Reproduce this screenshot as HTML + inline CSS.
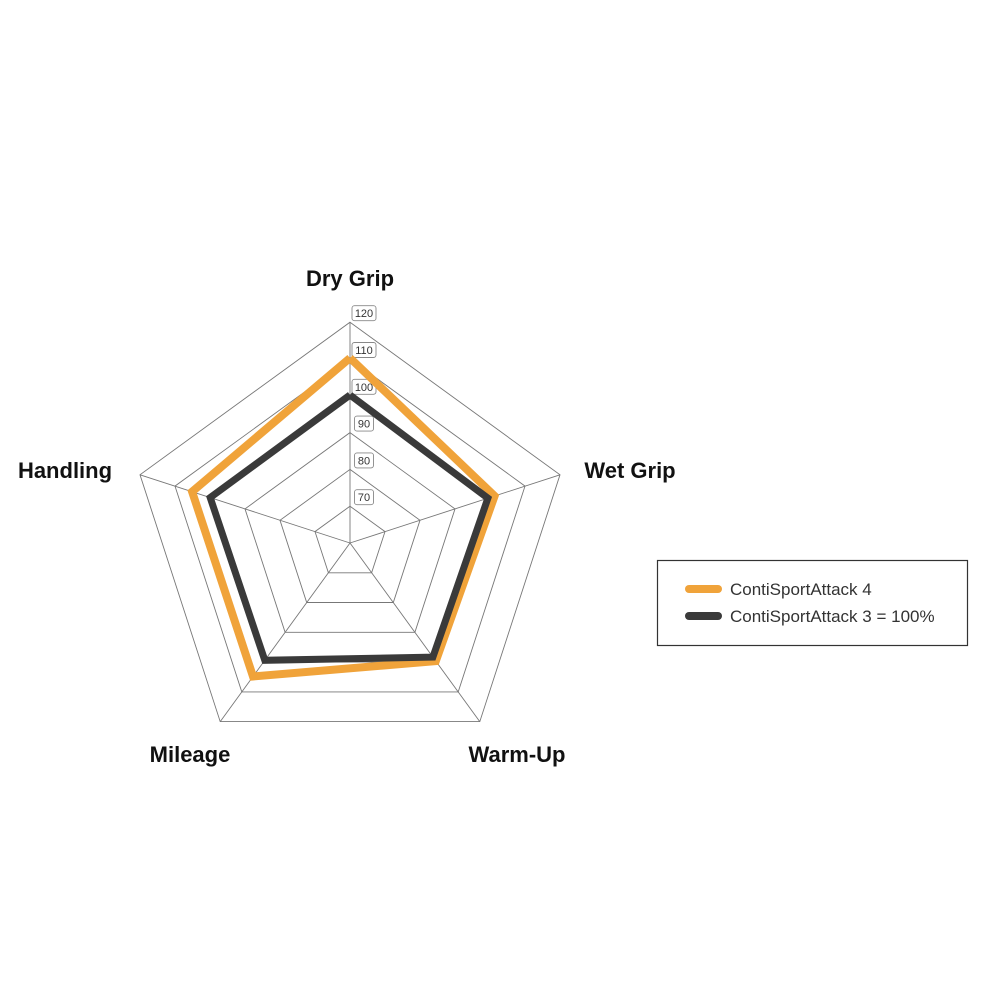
<!DOCTYPE html>
<html><head><meta charset="utf-8"><style>
html,body{margin:0;padding:0;background:#fff;}
svg{display:block;}
.lab{font-family:"Liberation Sans",sans-serif;font-weight:bold;font-size:22px;fill:#111;}
.tick{font-family:"Liberation Sans",sans-serif;font-size:11px;fill:#333;}
.leg{font-family:"Liberation Sans",sans-serif;font-size:17px;fill:#333;}
</style></head><body>
<svg id="s" width="1000" height="1000" viewBox="0 0 1000 1000" xmlns="http://www.w3.org/2000/svg">
<g id="grid" fill="none" stroke="#777" stroke-width="0.9"></g>
<g id="ticks"></g>
<polyline fill="none" stroke="#f0a33a" stroke-width="8" stroke-linejoin="miter" points="350,358 494.6,496 435.8,661.1 253,676.5 192.1,491.7 350,358"/>
<polyline fill="none" stroke="#3a3a3a" stroke-width="7" stroke-linejoin="miter" points="350,395 487.9,498.2 432.9,657.1 264.8,660.3 210.2,497.6 350,395"/>
<text class="lab" x="350" y="286" text-anchor="middle">Dry Grip</text>
<text class="lab" x="630" y="478" text-anchor="middle">Wet Grip</text>
<text class="lab" x="65" y="478" text-anchor="middle">Handling</text>
<text class="lab" x="190" y="762" text-anchor="middle">Mileage</text>
<text class="lab" x="517" y="762" text-anchor="middle">Warm-Up</text>
<rect x="657.5" y="560.5" width="310" height="85" fill="#fff" stroke="#333" stroke-width="1.2"/>
<line x1="689" y1="589" x2="718" y2="589" stroke="#f0a33a" stroke-width="8" stroke-linecap="round"/>
<line x1="689" y1="616" x2="718" y2="616" stroke="#3a3a3a" stroke-width="8" stroke-linecap="round"/>
<text class="leg" x="730" y="595">ContiSportAttack 4</text>
<text class="leg" x="730" y="622">ContiSportAttack 3 = 100%</text>
</svg>
<script>
var g=document.getElementById('grid'),t=document.getElementById('ticks'),cx=350,cy=543,st=36.8,ns="http://www.w3.org/2000/svg";
for(var k=1;k<=6;k++){var r=st*k,p=[];for(var i=0;i<5;i++){var a=i*72*Math.PI/180;p.push((cx+r*Math.sin(a)).toFixed(1)+","+(cy-r*Math.cos(a)).toFixed(1));}
var e=document.createElementNS(ns,"polygon");e.setAttribute("points",p.join(" "));g.appendChild(e);}
for(var i=0;i<5;i++){var a=i*72*Math.PI/180,l=document.createElementNS(ns,"line");l.setAttribute("x1",cx);l.setAttribute("y1",cy);l.setAttribute("x2",cx+st*6*Math.sin(a));l.setAttribute("y2",cy-st*6*Math.cos(a));g.appendChild(l);}
for(var k=1;k<=6;k++){var y=cy-st*k-9,v=String(60+10*k),w=v.length==3?24:19;
var rc=document.createElementNS(ns,"rect");rc.setAttribute("x",364-w/2);rc.setAttribute("y",y-7.5);rc.setAttribute("width",w);rc.setAttribute("height",15);rc.setAttribute("rx",2.5);rc.setAttribute("fill","#fff");rc.setAttribute("stroke","#888");rc.setAttribute("stroke-width","0.9");t.appendChild(rc);
var tx=document.createElementNS(ns,"text");tx.setAttribute("x",364);tx.setAttribute("y",y+4);tx.setAttribute("text-anchor","middle");tx.setAttribute("class","tick");tx.textContent=v;t.appendChild(tx);}
</script>
</body></html>
